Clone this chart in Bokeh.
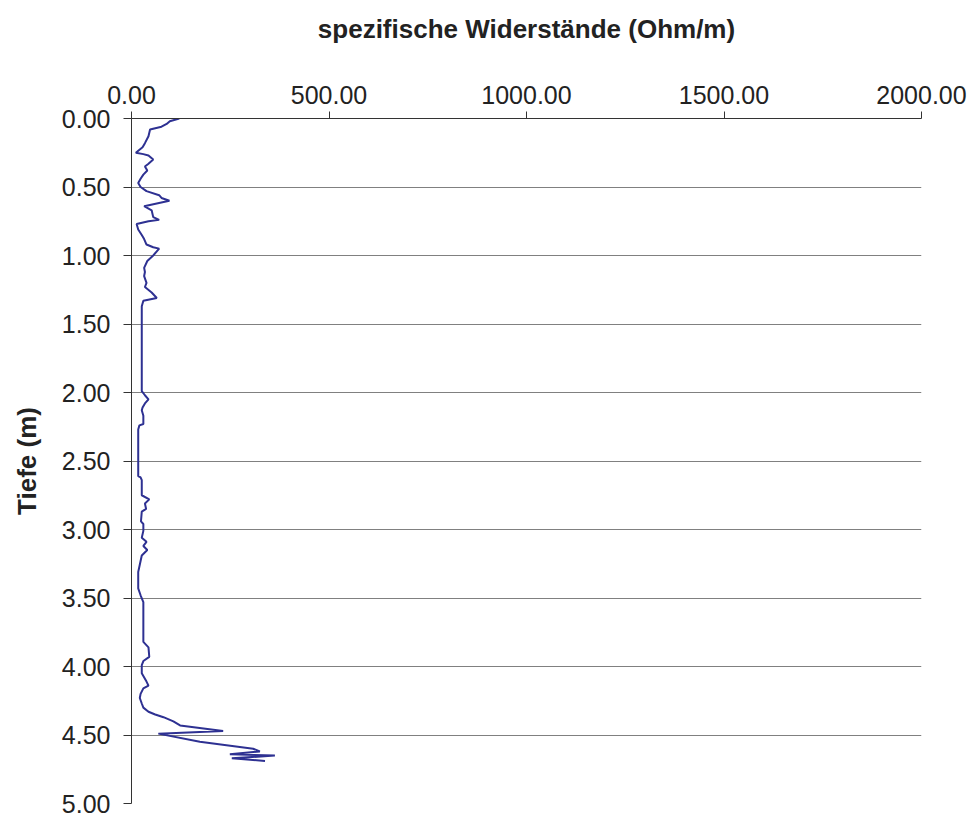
from bokeh.plotting import figure
from bokeh.models import Range1d, FixedTicker, PrintfTickFormatter
from bokeh.embed import file_html
from bokeh.resources import INLINE

# Depth (m) and specific resistance (Ohm/m)
depth = [0.00, 0.02, 0.04, 0.06, 0.08, 0.13, 0.18, 0.21, 0.25, 0.26, 0.27, 0.30,
         0.33, 0.35, 0.38, 0.41, 0.44, 0.47, 0.50, 0.53, 0.56, 0.58, 0.60, 0.64,
         0.67, 0.72, 0.74, 0.75, 0.77, 0.81, 0.85, 0.88, 0.92, 0.94, 0.95, 1.00,
         1.04, 1.09, 1.12, 1.15, 1.20, 1.23, 1.27, 1.31, 1.33, 1.37, 1.45, 1.60,
         1.75, 1.90, 1.99, 2.02, 2.05, 2.08, 2.11, 2.13, 2.17, 2.23, 2.24, 2.27,
         2.40, 2.50, 2.61, 2.62, 2.64, 2.75, 2.78, 2.81, 2.85, 2.87, 2.94, 2.96,
         3.01, 3.06, 3.09, 3.12, 3.15, 3.19, 3.23, 3.31, 3.43, 3.48, 3.53, 3.65,
         3.82, 3.86, 3.93, 3.96, 3.99, 4.05, 4.11, 4.14, 4.16, 4.20, 4.23, 4.27,
         4.30, 4.33, 4.35, 4.37, 4.40, 4.43, 4.47, 4.49, 4.55, 4.60, 4.62, 4.64,
         4.65, 4.67, 4.69]
resist = [121, 97, 89, 76, 47, 43, 34, 28, 11, 30, 43, 55,
          43, 34, 40, 30, 23, 17, 23, 38, 70, 76, 96, 32,
          51, 55, 70, 43, 13, 17, 26, 32, 38, 55, 70, 55,
          40, 32, 34, 32, 38, 34, 51, 64, 30, 26, 26, 26,
          26, 26, 26, 34, 43, 34, 28, 26, 30, 30, 20, 17,
          17, 17, 17, 23, 26, 26, 45, 34, 37, 26, 24, 30,
          30, 26, 38, 30, 40, 26, 23, 17, 17, 23, 30, 30,
          30, 43, 45, 30, 26, 26, 38, 43, 30, 23, 21, 26,
          30, 43, 60, 81, 106, 123, 232, 68, 173, 308, 325, 249,
          363, 254, 338]

x_ticks = [0, 500, 1000, 1500, 2000]
y_ticks = [0.0, 0.5, 1.0, 1.5, 2.0, 2.5, 3.0, 3.5, 4.0, 4.5, 5.0]

FONT = "Liberation Sans"
TXT = "#222222"

p = figure(width=970, height=819,
           x_range=Range1d(0, 2000), y_range=Range1d(5, 0),
           x_axis_location="above", y_axis_location="left",
           output_backend="svg", toolbar_location=None,
           min_border_left=131, min_border_right=49,
           min_border_top=118, min_border_bottom=16)

p.outline_line_color = None
p.background_fill_color = "white"
p.border_fill_color = "white"

p.line(resist, depth, line_color="#2e3192", line_width=2)

# top (x) axis
xa = p.xaxis[0]
xa.ticker = FixedTicker(ticks=x_ticks)
xa.formatter = PrintfTickFormatter(format="%.2f")
xa.axis_label = "spezifische Widerstände (Ohm/m)"
xa.axis_label_text_font = FONT
xa.axis_label_text_font_size = "26px"
xa.axis_label_text_font_style = "bold"
xa.axis_label_text_color = TXT
xa.axis_label_standoff = 39
xa.major_label_text_font = FONT
xa.major_label_text_font_size = "25px"
xa.major_label_text_color = TXT
xa.major_label_standoff = 8
xa.major_tick_out = 7
xa.major_tick_in = 0
xa.minor_tick_out = 0
xa.minor_tick_in = 0
xa.axis_line_color = "#333333"
xa.major_tick_line_color = "#333333"

# left (y) axis
ya = p.yaxis[0]
ya.ticker = FixedTicker(ticks=y_ticks)
ya.formatter = PrintfTickFormatter(format="%.2f")
ya.axis_label = "Tiefe (m)"
ya.axis_label_text_font = FONT
ya.axis_label_text_font_size = "26px"
ya.axis_label_text_font_style = "bold"
ya.axis_label_text_color = TXT
ya.axis_label_standoff = 17
ya.major_label_text_font = FONT
ya.major_label_text_font_size = "25px"
ya.major_label_text_color = TXT
ya.major_label_standoff = 13
ya.major_tick_out = 8
ya.major_tick_in = 0
ya.minor_tick_out = 0
ya.minor_tick_in = 0
ya.axis_line_color = "#333333"
ya.major_tick_line_color = "#333333"

p.xgrid.visible = False
p.ygrid.ticker = FixedTicker(ticks=y_ticks)
p.ygrid.grid_line_color = "#808080"
p.ygrid.grid_line_width = 1

open("out.html", "w").write(file_html(p, INLINE))
